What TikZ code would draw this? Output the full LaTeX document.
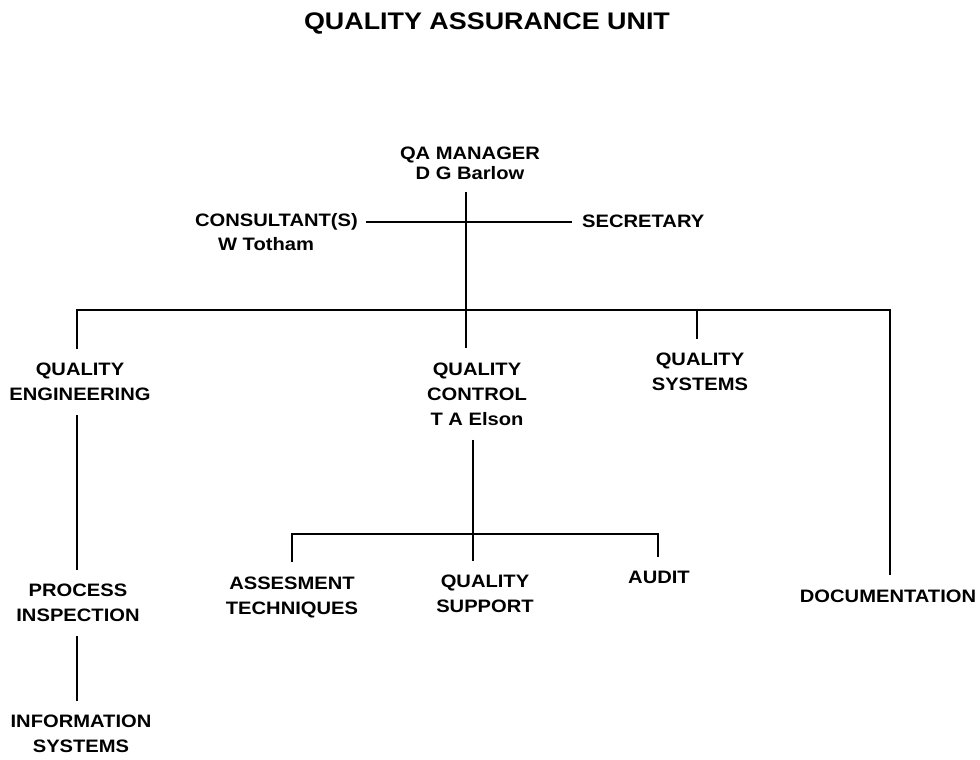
\documentclass[tikz,border=0pt]{standalone}
\usepackage{fontspec}
\setmainfont{Liberation Sans}[FakeStretch=1.12]
\begin{document}
\begin{tikzpicture}[x=1pt,y=-1pt,
  lbl/.style={align=center, font=\bfseries\fontsize{18}{25}\selectfont,
              inner xsep=5pt, inner ysep=14pt},
  conn/.style={line width=2.8pt, line cap=butt, line join=miter}]
\useasboundingbox (0,0) rectangle (980,760);

% heading
\node[font=\bfseries\fontsize{24}{28}\selectfont] (title) at (487,23) {QUALITY ASSURANCE UNIT};

% head of the unit and staff posts
\node[lbl, font=\bfseries\fontsize{18}{20}\selectfont, inner ysep=12pt] (mgr) at (470,163) {QA MANAGER\\D G Barlow};
\node[lbl, anchor=east, inner ysep=4pt, inner xsep=8pt] (cons) at (366,222) {CONSULTANT(S)};
\node[lbl, inner ysep=2pt] (consnm) at (266,244) {W Totham};
\node[lbl, anchor=west, inner ysep=4pt, inner xsep=10pt] (sec) at (572,221) {SECRETARY};

% sections
\node[lbl] (qe)   at (80,382)  {QUALITY\\ENGINEERING};
\node[lbl] (qc)   at (477,394) {QUALITY\\CONTROL\\T A Elson};
\node[lbl] (qs)   at (700,372) {QUALITY\\SYSTEMS};
\node[lbl] (doc)  at (888,596) {DOCUMENTATION};
\node[lbl] (pi)   at (78,603)  {PROCESS\\INSPECTION};
\node[lbl] (info) at (81,734)  {INFORMATION\\SYSTEMS};
\node[lbl] (ast)  at (292,597) {ASSESMENT\\TECHNIQUES};
\node[lbl] (qsup) at (485,594) {QUALITY\\SUPPORT};
\node[lbl] (aud)  at (659,577) {AUDIT};

% branch points
\coordinate (spine) at (466,310);
\coordinate (barL) at (77,310);
\coordinate (barR) at (890,310);
\coordinate (qsdrop) at (697,310);
\coordinate (subL) at (292,534);
\coordinate (subR) at (658,534);
\coordinate (qcstem) at (473,534);

% connectors
\draw[conn] (cons.east) -- (cons.east -| sec.west);
\draw[conn] (mgr.south -| spine) -- (qc.north -| spine);
\draw[conn] (barL |- qe.north) -- (barL) -- (barR) -- (barR |- doc.north);
\draw[conn] (qs.north -| qsdrop) -- (qsdrop);
\draw[conn] (barL |- qe.south) -- (barL |- pi.north);
\draw[conn] (barL |- pi.south) -- (barL |- info.north);
\draw[conn] (qc.south -| qcstem) -- (qsup.north -| qcstem);
\draw[conn] (subL |- ast.north) -- (subL) -- (subR) -- (subR |- aud.north);
\end{tikzpicture}
\end{document}
